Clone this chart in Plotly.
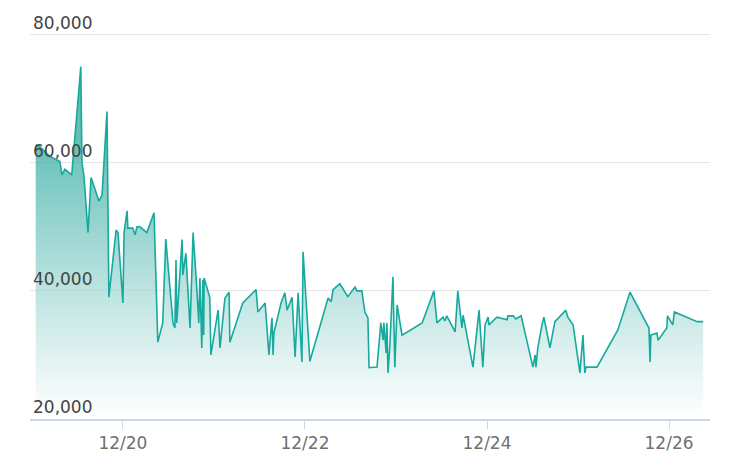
import pandas as pd
import plotly.graph_objects as go

# hours since 12/19 00:00 and values
hours = [1.0, 2.1, 4.7, 7.4, 7.9, 8.7, 10.5, 12.9, 13.2, 13.7, 14.8, 15.6, 17.7, 18.5, 19.8, 20.3,
         22.2, 22.7, 24.0, 24.3, 25.1, 25.3, 26.6, 27.2, 27.7, 28.5, 30.3, 32.2, 33.2, 34.5, 35.3,
         37.2, 37.7, 38.0, 38.2, 39.6, 39.8, 40.6, 41.7, 42.5, 43.5, 44.0, 44.3, 44.8, 45.1, 45.3,
         45.4, 46.9, 47.2, 49.1, 49.6, 50.9, 52.0, 52.2, 55.6, 59.1, 59.6,
         61.5, 62.5, 63.3, 63.6, 63.8, 65.7, 66.7, 67.3, 68.6, 69.4, 69.9, 70.2, 71.2, 71.5, 73.3,
         78.1, 78.9, 79.4, 81.2, 83.3, 85.2, 85.7, 87.0, 87.8, 88.6, 88.9, 91.0, 92.0, 92.6, 92.8,
         93.4, 93.6, 93.9, 94.4, 95.2, 95.7, 96.3, 97.6, 102.9, 106.0, 106.8, 108.4, 108.9, 109.4,
         111.6, 112.3, 113.4, 113.7, 116.3, 117.9, 118.9, 119.5, 120.3, 120.5, 122.6, 125.3, 125.5,
         126.9, 127.6, 129.0, 132.1, 132.7, 132.9, 133.4, 134.5, 135.0, 136.6, 137.4, 137.9, 140.8,
         141.3, 142.7, 144.5, 145.3, 145.8, 146.1, 149.0, 154.5, 157.7, 162.7, 163.0, 163.2, 164.8,
         165.1, 167.4, 167.6, 169.0, 169.4, 175.4, 177.0]
values = [62800, 62500, 61000, 60200, 58100, 59000, 58100, 75000, 60000, 58100, 49100, 57700, 54000,
          55000, 68000, 39000, 49500, 49100, 38100, 49100, 52500, 49800, 49800, 48750, 50000, 50000,
          49100, 52200, 32000, 35000, 48100, 35000, 34200, 44800, 35000, 48000, 42500, 45900, 34200,
          49100, 40200, 35000, 42000, 31100, 41700, 33100, 42000, 39000, 30000, 37000, 31100, 38900,
          39800, 32000, 38100, 40200, 36700,
          38100, 30000, 35800, 30000, 33400, 38100, 39700, 37000, 39000, 29700, 36000, 39700, 28900,
          46100, 29000, 38900, 38300, 40200, 41100, 39100, 40600, 40000, 40000, 36700, 35800, 28000,
          28100, 35000, 32300, 35000, 30300, 35000, 27200, 31600, 42200, 28100, 37800, 33100, 35000,
          40000, 35000, 35900, 35300, 36100, 33600, 40000, 34200, 36200, 28100, 37000, 28100, 34700,
          35900, 34700, 35900, 35500, 36100, 36100, 35600, 36100, 28100, 30000, 28100, 31100, 34700,
          35900, 31100, 33900, 35200, 37000, 35900, 34700, 27200, 33100, 27200, 28100, 28100, 33900,
          39800, 34200, 28900, 33100, 33400, 32300, 34200, 36100, 34700, 36700, 35200, 35200]

start = pd.Timestamp("2023-12-19")
dates = start + pd.to_timedelta(hours, unit="h")

fig = go.Figure()
fig.add_trace(go.Scatter(
    x=dates, y=values, mode="lines", fill="tozeroy",
    line=dict(color="#17a99d", width=1.6),
    fillgradient=dict(type="vertical", start=20000, stop=64000,
                      colorscale=[[0, "rgba(255,255,255,0.6)"], [1, "rgba(26,160,150,0.68)"]]),
    showlegend=False, hoverinfo="x+y",
))

fig.update_layout(
    width=734, height=472, margin=dict(l=22, r=32, t=1, b=61, autoexpand=False),
    plot_bgcolor="white", paper_bgcolor="white",
    font=dict(family="DejaVu Sans", color="#707070", size=17),
)
fig.update_xaxes(
    range=[start - pd.Timedelta(hours=0.5), start + pd.Timedelta(hours=178.8)],
    tickvals=pd.to_datetime(["2023-12-20", "2023-12-22", "2023-12-24", "2023-12-26"]),
    ticktext=["12/20", "12/22", "12/24", "12/26"],
    showgrid=False, showline=True, linecolor="#ccd6eb", linewidth=1.5,
    ticks="outside", tickcolor="#ccd6eb", ticklen=8, automargin=False,
)
fig.update_yaxes(
    range=[20000, 84000], tickvals=[20000, 40000, 60000, 80000], tickformat=",",
    ticklabelposition="inside top", gridcolor="#e6e6e6", zeroline=False, automargin=False,
)
fig.write_html("out.html")
